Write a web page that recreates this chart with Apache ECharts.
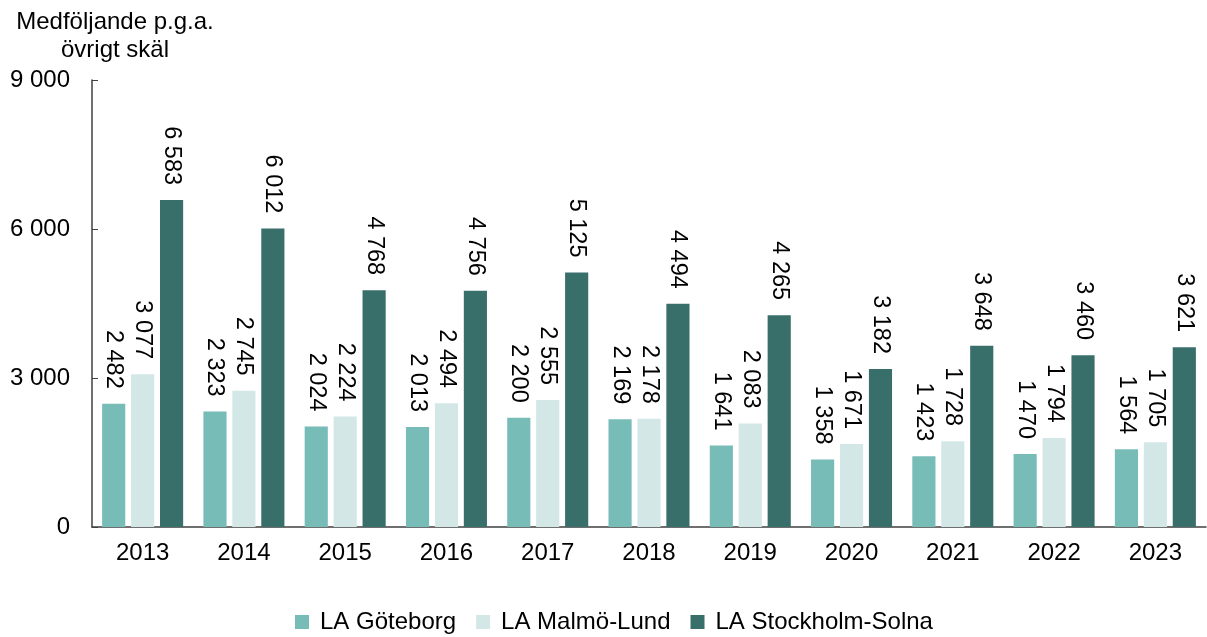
<!DOCTYPE html>
<html>
<head>
<meta charset="utf-8">
<script src="https://cdn.jsdelivr.net/npm/echarts@6/dist/echarts.min.js"></script>
<style>
html, body { margin: 0; padding: 0; background: #fff; }
#chart { width: 1207px; height: 637px; }
</style>
</head>
<body>
<div id="chart"></div>
<script>
// år på x-axeln
var years = ['2013', '2014', '2015', '2016', '2017', '2018', '2019', '2020', '2021', '2022', '2023'];
var goteborg = [2482, 2323, 2024, 2013, 2200, 2169, 1641, 1358, 1423, 1470, 1564];
var malmoLund = [3077, 2745, 2224, 2494, 2555, 2178, 2083, 1671, 1728, 1794, 1705];
var stockholmSolna = [6583, 6012, 4768, 4756, 5125, 4494, 4265, 3182, 3648, 3460, 3621];
var yTicks = [0, 3000, 6000, 9000];

var font = 'Liberation Sans, Arial, sans-serif';

// "6583" -> "6 583"
function sv(v) {
    return String(v).replace(/\B(?=(\d{3})+(?!\d))/g, ' ');
}

function barSeries(name, data, color) {
    return {
        name: name,
        type: 'bar',
        data: data,
        barGap: '25%',
        barCategoryGap: '20%',
        itemStyle: { color: color },
        label: {
            show: true,
            position: 'top',
            distance: 15,
            rotate: -90,
            align: 'right',
            verticalAlign: 'middle',
            color: '#000',
            fontFamily: font,
            fontSize: 23.5,
            formatter: function (p) { return sv(p.value); }
        }
    };
}

var chart = echarts.init(document.getElementById('chart'));
chart.setOption({
    animation: false,
    textStyle: { fontFamily: font },
    title: {
        text: 'Medföljande p.g.a.\növrigt skäl',
        left: 110,
        top: 3,
        textAlign: 'center',
        textStyle: { fontFamily: font, fontSize: 24, fontWeight: 'normal', color: '#000', lineHeight: 28 }
    },
    grid: { left: 92, right: 1, top: 80, bottom: 110, containLabel: false },
    legend: {
        top: 605,
        left: 290,
        itemWidth: 14,
        itemHeight: 14,
        itemGap: 20,
        icon: 'rect',
        textStyle: { fontFamily: font, fontSize: 24, color: '#000', padding: [0, 0, 0, 6] },
        data: ['LA Göteborg', 'LA Malmö-Lund', 'LA Stockholm-Solna']
    },
    xAxis: {
        type: 'category',
        data: years,
        axisLine: { lineStyle: { color: '#404040', width: 1.5 } },
        axisTick: { inside: true, length: 5, lineStyle: { color: '#404040' } },
        axisLabel: { color: '#000', fontSize: 24, margin: 14, fontFamily: font }
    },
    yAxis: {
        type: 'value',
        min: yTicks[0],
        max: yTicks[yTicks.length - 1],
        interval: 3000,
        splitLine: { show: false },
        axisLine: { show: true, lineStyle: { color: '#404040', width: 1.5 } },
        axisTick: { show: true, inside: true, length: 6, lineStyle: { color: '#404040' } },
        axisLabel: {
            color: '#000', fontSize: 24, margin: 22, fontFamily: font,
            formatter: function (v) { return sv(v); }
        }
    },
    series: [
        barSeries('LA Göteborg', goteborg, '#77BCB7'),
        barSeries('LA Malmö-Lund', malmoLund, '#D3E8E6'),
        barSeries('LA Stockholm-Solna', stockholmSolna, '#386F6B')
    ]
});
window.onresize = chart.resize;
</script>
</body>
</html>
